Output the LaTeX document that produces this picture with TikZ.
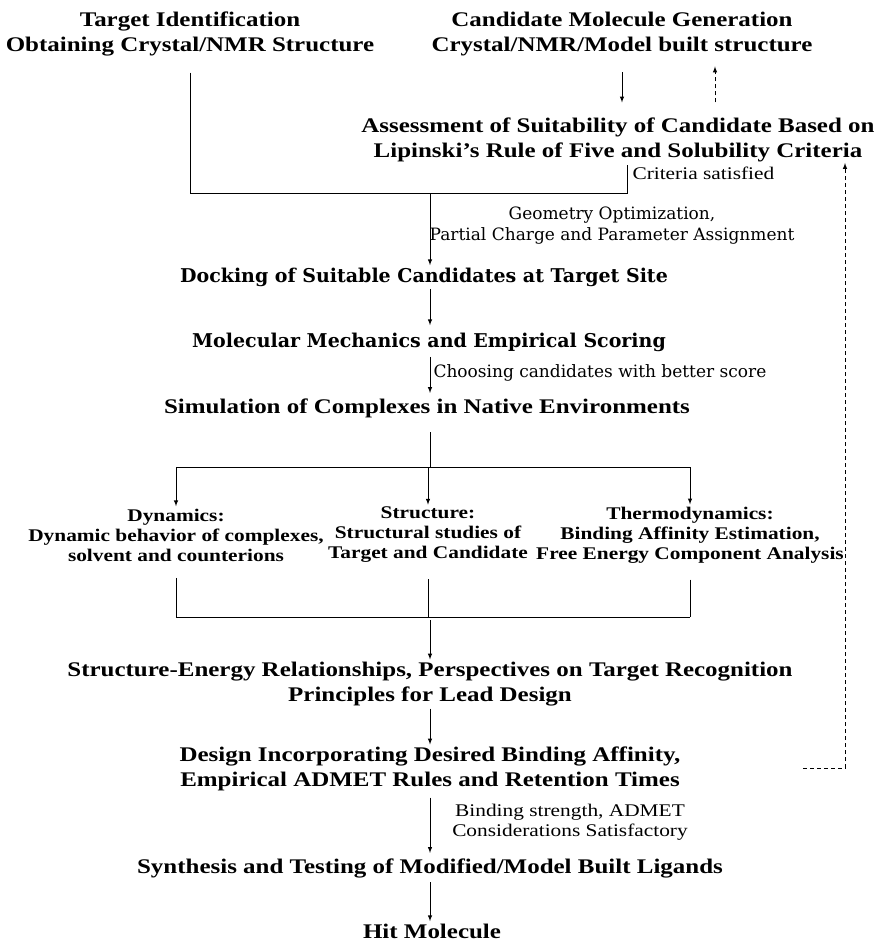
\documentclass[tikz,border=0pt]{standalone}
\usepackage{fontspec}
\setmainfont{Liberation Serif}[FakeStretch=1.2]
\newfontfamily\widefont{DejaVu Serif}

\begin{document}
\begin{tikzpicture}[>=latex, x=1pt, y=-1pt, line width=1pt,
    title/.style={font=\bfseries\fontsize{20.8}{25}\selectfont, align=center, inner sep=2pt},
    wtitle/.style={font=\widefont\bfseries\fontsize{19}{22}\selectfont, align=center, inner sep=2pt},
    branch/.style={font=\bfseries\fontsize{17.8}{20}\selectfont, align=center, inner sep=2pt},
    note/.style={font=\fontsize{17.8}{20}\selectfont, align=center, inner sep=2pt},
    wnote/.style={font=\widefont\fontsize{17}{21}\selectfont, align=center, inner sep=2pt},
    fback/.style={->, dash pattern=on 4pt off 3pt}]
    \useasboundingbox (0,0) rectangle (880,944);

    % 1. Dau vao: dich va ung vien
    \node[title] (target) at (190,34) {Target Identification\\Obtaining Crystal/NMR Structure};
    \node[title] (cand) at (622,34) {Candidate Molecule Generation\\Crystal/NMR/Model built structure};
    \node[title] (assess) at (618,140) {Assessment of Suitability of Candidate Based on\\Lipinski's Rule of Five and Solubility Criteria};
    \node[note, anchor=west] (crit) at (630,173) {Criteria satisfied};

    \coordinate (fb) at (715,0);
    \coordinate (jn) at (627,193);
    \coordinate (spine) at (430,0);

    \draw[->, shorten <=14pt, shorten >=13pt] (cand.south) -- (cand.south |- assess.north);
    \draw[fback, shorten <=13pt, shorten >=8pt] (assess.north -| fb) -- (cand.south -| fb);
    \draw ([yshift=-14pt]target.south) -- (target.south |- jn) -- (jn) -- (assess.south -| jn);

    % 2. Docking va cham diem
    \node[wtitle] (dock) at (424,277) {Docking of Suitable Candidates at Target Site};
    \node[wnote] (geo) at (612,226) {Geometry Optimization,\\Partial Charge and Parameter Assignment};
    \node[wtitle] (mm) at (429,342) {Molecular Mechanics and Empirical Scoring};
    \node[wnote, anchor=west] (choose) at (431,373) {Choosing candidates with better score};
    \node[title] (sim) at (427,408) {Simulation of Complexes in Native Environments};

    \draw[->] (jn -| spine) -- (dock.north -| spine);
    \draw[->, shorten >=5pt] (dock.south -| spine) -- (mm.north -| spine);
    \draw[->, shorten <=3pt, shorten >=3pt] (mm.south -| spine) -- (sim.north -| spine);

    % 3. Ba huong mo phong
    \node[branch] (dyn) at (176,535) {Dynamics:\\Dynamic behavior of complexes,\\solvent and counterions};
    \node[branch] (struc) at (428,535) {Structure:\\Structural studies of\\Target and Candidate};
    \node[branch] (thermo) at (690,535) {Thermodynamics:\\Binding Affinity Estimation,\\Free Energy Component Analysis};

    \coordinate (split) at (430,467);
    \coordinate (merge) at (430,617);
    \draw ([yshift=-12pt]sim.south -| spine) -- (split);
    \draw (dyn.north |- split) -- (thermo.north |- split);
    \foreach \n in {dyn,struc,thermo}
        \draw[->] (\n.north |- split) -- (\n.north);
    \foreach \n in {dyn,struc,thermo}
        \draw ([yshift=-14pt]\n.south) -- (\n.south |- merge);
    \draw (dyn.south |- merge) -- (thermo.south |- merge);

    % 4. Thiet ke va tong hop
    \node[title] (sel) at (430,684) {Structure-Energy Relationships, Perspectives on Target Recognition\\Principles for Lead Design};
    \node[title] (design) at (430,769) {Design Incorporating Desired Binding Affinity,\\Empirical ADMET Rules and Retention Times};
    \node[note] (bind) at (570,822) {Binding strength, ADMET\\Considerations Satisfactory};
    \node[title] (synth) at (430,868) {Synthesis and Testing of Modified/Model Built Ligands};
    \node[title] (hit) at (432,931) {Hit Molecule};

    \draw[->] ([yshift=-3pt]merge) -- (sel.north -| spine);
    \draw[->] (sel.south -| spine) -- (design.north -| spine);
    \draw[->, shorten <=4pt, shorten >=3pt] (design.south -| spine) -- (synth.north -| spine);
    \draw[->, shorten <=2pt] (synth.south -| spine) -- (hit.north -| spine);

    % vong lap phan hoi
    \coordinate (lpstart) at (803,768);
    \coordinate (lpend) at (845,163);
    \draw[fback] (lpstart) -| (lpend);
\end{tikzpicture}
\end{document}
